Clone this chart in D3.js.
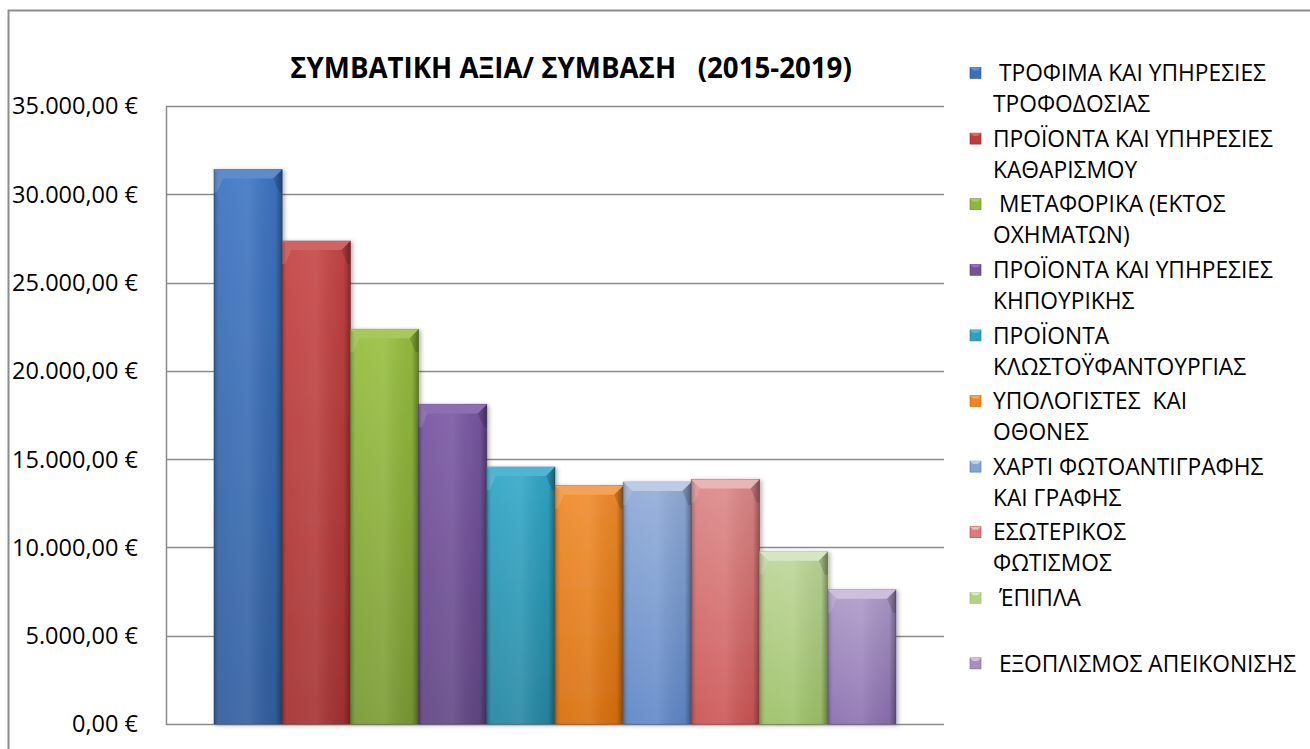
<!DOCTYPE html>
<html>
<head>
<meta charset="utf-8">
<script src="https://cdn.jsdelivr.net/npm/d3@7"></script>
<style>
  body { margin: 0; background: #fff; }
  svg { display: block; }
  text { font-family: "Open Sans", "Noto Sans", sans-serif; fill: #000; white-space: pre; }
</style>
</head>
<body>
<svg id="chart" width="1310" height="749"></svg>
<script>
// chart data
const title = "ΣΥΜΒΑΤΙΚΗ ΑΞΙΑ/ ΣΥΜΒΑΣΗ   (2015-2019)"
const categories = [
  " ΤΡΟΦΙΜΑ ΚΑΙ ΥΠΗΡΕΣΙΕΣ\nΤΡΟΦΟΔΟΣΙΑΣ",
  "ΠΡΟΪΟΝΤΑ ΚΑΙ ΥΠΗΡΕΣΙΕΣ\nΚΑΘΑΡΙΣΜΟΥ",
  " ΜΕΤΑΦΟΡΙΚΑ (ΕΚΤΟΣ\nΟΧΗΜΑΤΩΝ)",
  "ΠΡΟΪΟΝΤΑ ΚΑΙ ΥΠΗΡΕΣΙΕΣ\nΚΗΠΟΥΡΙΚΗΣ",
  "ΠΡΟΪΟΝΤΑ\nΚΛΩΣΤΟΫΦΑΝΤΟΥΡΓΙΑΣ",
  "ΥΠΟΛΟΓΙΣΤΕΣ  ΚΑΙ\nΟΘΟΝΕΣ",
  "ΧΑΡΤΙ ΦΩΤΟΑΝΤΙΓΡΑΦΗΣ\nΚΑΙ ΓΡΑΦΗΣ",
  "ΕΣΩΤΕΡΙΚΟΣ\nΦΩΤΙΣΜΟΣ",
  " ΈΠΙΠΛΑ",
  " ΕΞΟΠΛΙΣΜΟΣ ΑΠΕΙΚΟΝΙΣΗΣ"
]
const values = [31400, 27350, 22350, 18100, 14550, 13500, 13700, 13850, 9750, 7600]
const colors = ["#3a6fba", "#c23b3b", "#8fb53c", "#73529b", "#2e9fbe", "#f0841f", "#84a3d3", "#d87c7c", "#b5d08c", "#a590c2"]
const yTicks = [0, 5000, 10000, 15000, 20000, 25000, 30000, 35000]

const svg = d3.select("#chart")
const defs = svg.append("defs")

const plot = {left: 166, right: 944, top: 106, bottom: 724}

// outer chart border (runs off the right and bottom edge)
svg.append("rect")
  .attr("x", 8.5).attr("y", 10.5)
  .attr("width", 1320).attr("height", 760)
  .attr("fill", "none").attr("stroke", "#8c8c8c").attr("stroke-width", 2)

const y = d3.scaleLinear().domain([0, 35000]).range([plot.bottom, plot.top])

// one category group, clustered bars inside it
const group = d3.scaleBand().domain(["all"]).range([plot.left, plot.right])
  .paddingInner(0).paddingOuter(0.0704)
const x = d3.scaleBand().domain(d3.range(values.length))
  .range([group("all"), group("all") + group.bandwidth()]).padding(0)

const locale = d3.formatLocale({decimal: ",", thousands: ".", grouping: [3], currency: ["", " €"]})
const fmt = locale.format(",.2f")

// gridlines
svg.append("g")
  .selectAll("line")
  .data(yTicks)
  .join("line")
  .attr("x1", plot.left).attr("x2", plot.right)
  .attr("y1", d => Math.round(y(d)) + 0.5).attr("y2", d => Math.round(y(d)) + 0.5)
  .attr("stroke", "#8a8a8a").attr("stroke-width", 1.5)

svg.append("line")
  .attr("x1", plot.left + 0.5).attr("x2", plot.left + 0.5)
  .attr("y1", plot.top).attr("y2", plot.bottom + 1)
  .attr("stroke", "#8a8a8a").attr("stroke-width", 1.5)

// y tick labels
const yLabels = svg.append("g")
  .selectAll("text")
  .data(yTicks)
  .join("text")
  .attr("x", 138)
  .attr("y", d => y(d))
  .attr("dy", "0.36em")
  .attr("text-anchor", "end")
  .attr("font-size", 18)
  .text(d => `${fmt(d)} €`)

// fit y label font to the picture's width
const fitFont = (sel, target) => {
  const w = sel.node().getComputedTextLength()
  const fs = +sel.attr("font-size")
  return fs * target / w
}
const yFs = fitFont(yLabels.filter(d => d == 35000), 126)
yLabels.attr("font-size", yFs)

// bar gradients
colors.forEach((c, i) => {
  const base = d3.hsl(c)
  const g = defs.append("linearGradient").attr("id", `gv${i}`)
    .attr("x1", 0).attr("y1", 0).attr("x2", 0).attr("y2", 1)
  g.append("stop").attr("offset", "0%").attr("stop-color", base.brighter(0.15))
  g.append("stop").attr("offset", "100%").attr("stop-color", base.darker(0.45))
})
const side = defs.append("linearGradient").attr("id", "side")
  .attr("x1", 0).attr("y1", 0).attr("x2", 1).attr("y2", 0)
side.append("stop").attr("offset", "0%").attr("stop-color", "#000").attr("stop-opacity", 0.25)
side.append("stop").attr("offset", "10%").attr("stop-color", "#fff").attr("stop-opacity", 0.06)
side.append("stop").attr("offset", "50%").attr("stop-color", "#fff").attr("stop-opacity", 0.1)
side.append("stop").attr("offset", "90%").attr("stop-color", "#000").attr("stop-opacity", 0.05)
side.append("stop").attr("offset", "100%").attr("stop-color", "#000").attr("stop-opacity", 0.35)

const shadow = defs.append("filter").attr("id", "shadow")
  .attr("x", "-10%").attr("y", "-10%").attr("width", "130%").attr("height", "120%")
shadow.append("feDropShadow").attr("dx", 2).attr("dy", 1).attr("stdDeviation", 2)
  .attr("flood-color", "#000").attr("flood-opacity", 0.3)

const bars = svg.append("g")
  .selectAll("g")
  .data(values)
  .join("g")

bars.append("rect")
  .attr("x", (d, i) => x(i))
  .attr("y", d => y(d))
  .attr("width", x.bandwidth())
  .attr("height", d => y(0) - y(d))
  .attr("fill", (d, i) => `url(#gv${i})`)
  .attr("stroke", (d, i) => d3.hsl(colors[i]).darker(0.9))
  .attr("stroke-opacity", 0.6)
  .attr("filter", "url(#shadow)")

bars.append("rect")
  .attr("x", (d, i) => x(i))
  .attr("y", d => y(d))
  .attr("width", x.bandwidth())
  .attr("height", d => y(0) - y(d))
  .attr("fill", "url(#side)")

// top bevel
const bev = 9
bars.append("path")
  .attr("d", (d, i) => {
    const x0 = x(i), x1 = x(i) + x.bandwidth(), t = y(d)
    return `M${x0},${t}L${x1},${t}L${x1 - bev},${t + bev}L${x0 + bev},${t + bev}Z`
  })
  .attr("fill", (d, i) => d3.hsl(colors[i]).brighter(0.55))
bars.append("path")
  .attr("d", (d, i) => {
    const x0 = x(i), t = y(d)
    return `M${x0},${t}L${x0 + bev},${t + bev}L${x0 + 3},${t + bev + 14}L${x0},${t + bev + 14}Z`
  })
  .attr("fill", "#fff").attr("fill-opacity", 0.12)
bars.append("path")
  .attr("d", (d, i) => {
    const x1 = x(i) + x.bandwidth(), t = y(d)
    return `M${x1},${t}L${x1 - bev},${t + bev}L${x1 - 3},${t + bev + 14}L${x1},${t + bev + 14}Z`
  })
  .attr("fill", "#000").attr("fill-opacity", 0.15)

// title
const titleText = svg.append("text")
  .attr("x", 571).attr("y", 68)
  .attr("dy", "0.36em")
  .attr("text-anchor", "middle")
  .attr("font-weight", "bold")
  .attr("font-size", 20)
  .text(title)
titleText.attr("font-size", fitFont(titleText, 562))

// legend
const legend = svg.append("g")
const entryStep = 65.6, lineStep = 31, legTop = 73

const items = legend.selectAll("g")
  .data(categories)
  .join("g")
  .attr("transform", (d, i) => `translate(0,${legTop + i * entryStep})`)

items.append("rect")
  .attr("x", 970).attr("y", -5.5)
  .attr("width", 11).attr("height", 11)
  .attr("fill", (d, i) => colors[i])
  .attr("stroke", (d, i) => d3.hsl(colors[i]).darker(0.8))
  .attr("stroke-width", 0.6)
items.append("path")
  .attr("d", "M970,-5.5L981,-5.5L978,-2.5L973,-2.5Z")
  .attr("fill", (d, i) => d3.hsl(colors[i]).brighter(0.6))

items.each(function(d) {
  d3.select(this).selectAll("text")
    .data(d.split("\n"))
    .join("text")
    .attr("class", "leg")
    .attr("x", 993)
    .attr("y", (t, j) => j * lineStep)
    .attr("dy", "0.36em")
    .attr("font-size", 17)
    .text(t => t)
})

const ref = legend.selectAll("text.leg").filter(t => t == "ΠΡΟΪΟΝΤΑ ΚΑΙ ΥΠΗΡΕΣΙΕΣ")
const legFs = fitFont(d3.select(ref.node()), 280)
legend.selectAll("text.leg").attr("font-size", legFs)
</script>
</body>
</html>
